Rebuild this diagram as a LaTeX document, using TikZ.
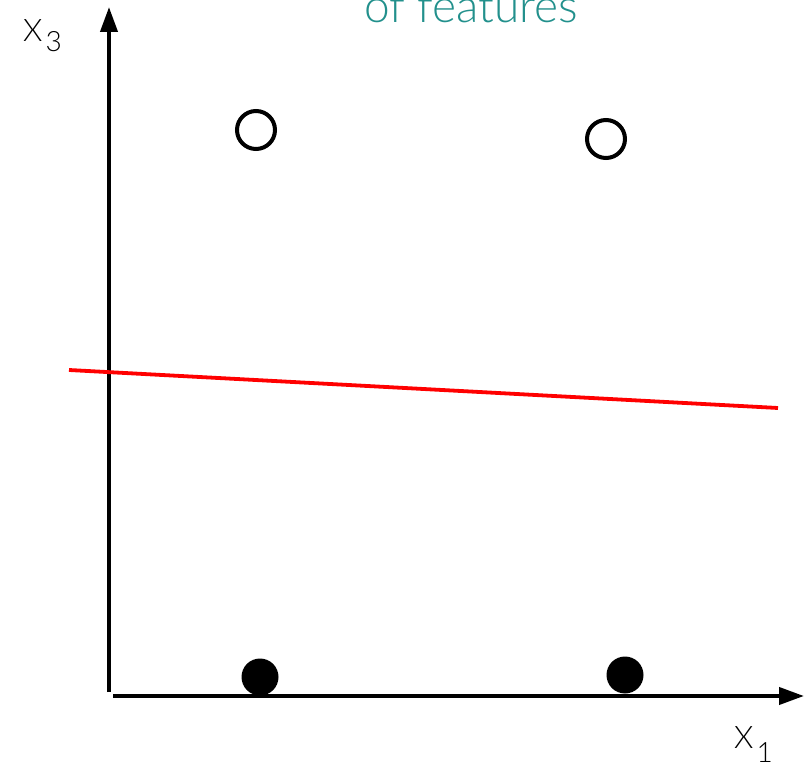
\documentclass[tikz,border=0pt]{standalone}
\usepackage{fontspec}
\setmainfont{Lato}[UprightFont=* Light]
\usepackage{xcolor}
\usetikzlibrary{arrows.meta,positioning}
\definecolor{featteal}{HTML}{22908C}
\newcommand{\axlabel}[3]{X\kern3pt\raisebox{-#3pt}{\fontsize{28}{30}\selectfont #2}}

\begin{document}
\begin{tikzpicture}[x=1pt,y=-1pt,
  axis/.style={line width=4pt, -{Triangle[length=25pt,width=17pt]}},
  open/.style={circle, draw, line width=4pt, minimum size=38pt, inner sep=0pt},
  filled/.style={circle, fill=black, minimum size=37pt, inner sep=0pt},
  sep/.style={red, line width=3.8pt},
  lbl/.style={font=\fontsize{31}{36}\selectfont, inner sep=0pt}
]
\useasboundingbox (0,0) rectangle (804,767);
\clip (0,0) rectangle (804,767);
% axes
\coordinate (o3)  at (109,692);
\coordinate (top) at (109,7);
\coordinate (o1)  at (113,696);
\coordinate (rgt) at (804,696);
\draw[axis] (o3) -- (top);
\draw[axis] (o1) -- (rgt);
\node[lbl, anchor=base west] (x3) at (23,42) {\axlabel{X}{3}{10}};
\node[lbl, anchor=base west] (x1) at (734,748) {\axlabel{X}{1}{14}};
% title (cut off)
\node[font=\fontsize{46}{52}\selectfont, text=featteal, inner sep=0pt,
      anchor=base] (title) at (471,23) {of features};
% data points
\node[open]   (p1) at (256,130) {};
\node[open]   (p2) at (606,139) {};
\node[filled] (q1) at (260,677) {};
\node[filled] (q2) at (625,675) {};
% decision line
\coordinate (l0) at (69,370);
\coordinate (l1) at (778,408);
\draw[sep] (l0) -- (l1);
\end{tikzpicture}
\end{document}
